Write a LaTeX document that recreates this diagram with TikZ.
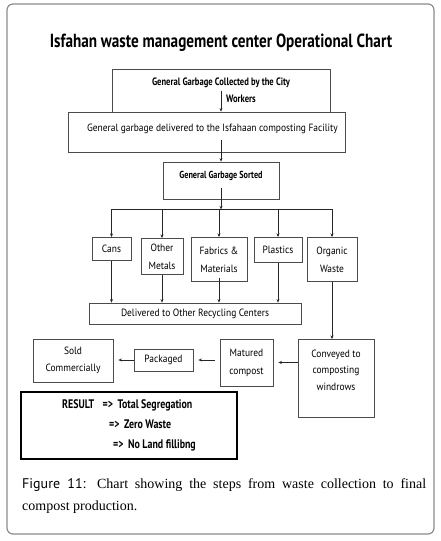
\documentclass[tikz,border=0pt]{standalone}
\usepackage{fontspec}
\setmainfont{Liberation Serif}
\newfontfamily\condfont[FakeStretch=0.9]{PT Sans}
\newfontfamily\heavyfont[FakeStretch=0.8]{PT Sans}
\newfontfamily\capsans{PT Sans}
\usetikzlibrary{arrows.meta,positioning,calc}
\definecolor{framegray}{RGB}{140,140,140}
\definecolor{boxline}{RGB}{75,75,75}

\begin{document}
\begin{tikzpicture}[x=1pt, y=-1pt,
    box/.style={rectangle, draw=boxline, line width=0.8pt, align=center, inner sep=1pt,
      font=\condfont\fontsize{10.5}{18}\selectfont},
    hbox/.style={box, font=\heavyfont\bfseries\fontsize{10.7}{17}\selectfont},
    arr/.style={-{Stealth[length=3.5pt, width=3pt]}, line width=0.6pt, black!85},
    lin/.style={line width=0.6pt, black!85}
  ]
  \useasboundingbox (0,0) rectangle (441,541);
  \draw[framegray, line width=1.2pt, rounded corners=6pt] (7,4) rectangle (434,534);

  \node[font=\heavyfont\bfseries\fontsize{19}{22}\selectfont] (title) at (221,43)
    {Isfahan waste management center Operational Chart};

  \node[hbox, minimum width=218, minimum height=43] (collect) at (221,90.5)
    {General Garbage Collected by the City\\\hspace*{40pt}Workers};
  \node[box, minimum width=277, minimum height=40, text height=7pt, text depth=8pt] (deliver) at (206.5,132)
    {\hspace*{12pt}General garbage delivered to the Isfahaan composting Facility};
  \node[hbox, minimum width=116, minimum height=37, text height=7.5pt, text depth=12pt,
    font=\heavyfont\bfseries\fontsize{10.2}{17}\selectfont] (sorted) at (221,180.5)
    {General Garbage Sorted};

  \node[box, anchor=north, minimum width=39, minimum height=23] (cans)     at (111.5,237) {Cans};
  \node[box, anchor=north, minimum width=42, minimum height=36] (metals)   at (162,238)   {Other\\Metals};
  \node[box, anchor=north, minimum width=56, minimum height=44] (fabrics)  at (219,237)   {Fabrics \&\\Materials};
  \node[box, anchor=north, minimum width=48, minimum height=25] (plastics) at (278,237)   {Plastics};
  \node[box, anchor=north, minimum width=50, minimum height=44] (organic)  at (332,237)   {Organic\\Waste};

  \node[box, minimum width=212, minimum height=21] (recycle) at (195,313.5)
    {Delivered to Other Recycling Centers};

  \node[box, anchor=north, minimum width=76, minimum height=78, font=\condfont\fontsize{10.5}{16.5}\selectfont] (windrow) at (336,339)
    {Conveyed to\\composting\\windrows\\\mbox{}};
  \node[box, minimum width=53, minimum height=47] (matured)  at (246.5,362.5) {Matured\\compost};
  \node[box, minimum width=59, minimum height=22] (packaged) at (163.5,360)   {Packaged};
  \node[box, minimum width=80, minimum height=43, font=\condfont\fontsize{10.5}{17}\selectfont] (sold) at (73,360.5)
    {Sold\\Commercially};

  \node[box, draw=black, line width=1.4pt, minimum width=216, minimum height=67, align=left,
    font=\heavyfont\bfseries\fontsize{12.4}{20}\selectfont] (result) at (129,425.5)
    {RESULT\hspace{6pt} =>\hspace{2pt} Total Segregation\\
     \hspace*{47pt}=>\hspace{2pt} Zero Waste\\
     \hspace*{51pt}=>\hspace{2pt} No Land fillibng};

  \node[anchor=north west, text width=404pt, align=justify, inner sep=0pt,
    font=\fontsize{14}{22}\selectfont] (caption) at (22,478)
    {{\capsans Figure 11:} Chart showing the steps from waste collection to final\linebreak
     compost production.};

  \draw[arr] (collect.center) -- (collect.center |- deliver.north);
  \draw[arr, shorten <=-12pt] (deliver.south -| sorted.north) -- (sorted.north);

  % sorting bus
  \coordinate (bus) at ($(sorted.south)+(0,10)$);
  \draw[arr, shorten <=-11pt] (sorted.south) -- (bus);
  \draw[lin] (bus -| cans.north) -- (bus -| organic.north);
  \foreach \n in {cans,metals,fabrics,plastics,organic}
    \draw[arr] (bus -| \n.north) -- (\n.north);

  \foreach \n in {cans,metals,plastics}
    \draw[arr] (\n.south) -- (\n.south |- recycle.north);
  \draw[arr, shorten <=-4pt] (fabrics.south) -- (fabrics.south |- recycle.north);

  % composting line
  \draw[arr] (organic.south) -- (organic.south |- windrow.north);
  \draw[arr, shorten >=5pt] (windrow.west |- matured.east) -- (matured.east);
  \draw[arr, shorten <=5pt, shorten >=5pt] (matured.west |- packaged.east) -- (packaged.east);
  \draw[arr, shorten >=5pt] (packaged.west) -- (packaged.west -| sold.east);
\end{tikzpicture}
\end{document}
